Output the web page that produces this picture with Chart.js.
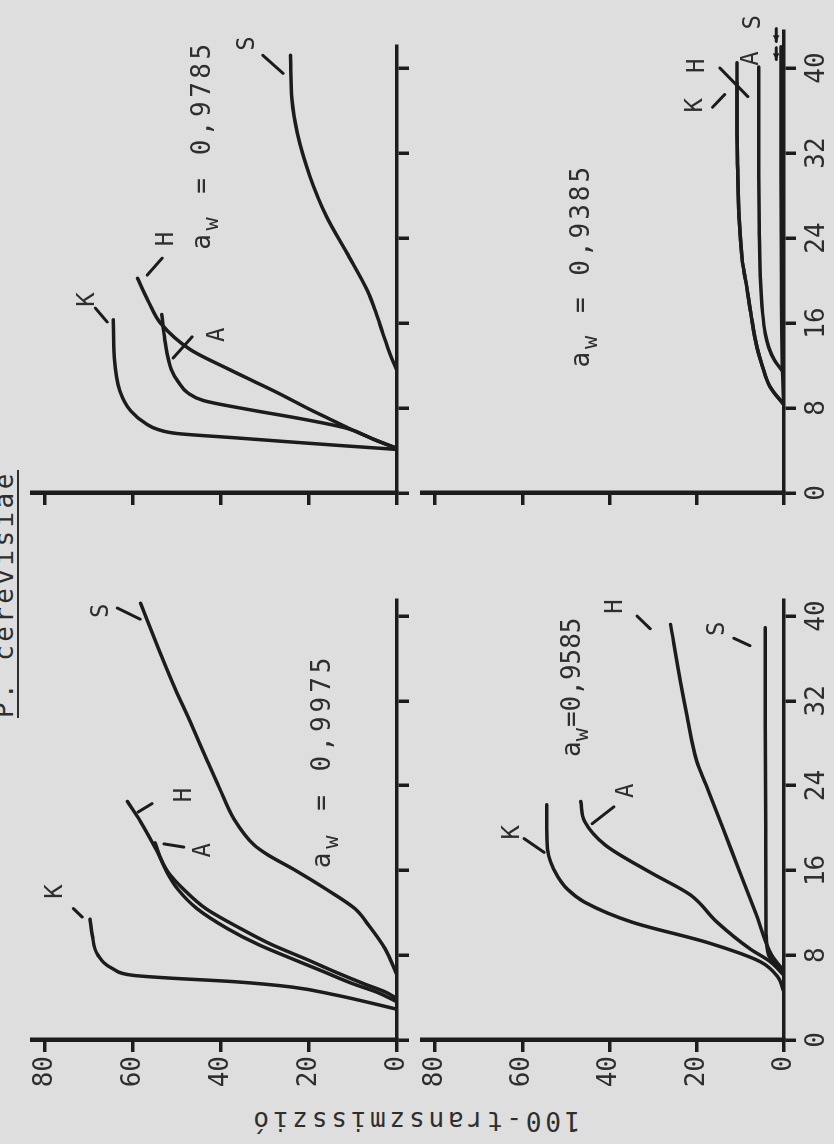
<!DOCTYPE html>
<html><head><meta charset="utf-8">
<script src="https://cdn.jsdelivr.net/npm/chart.js@4.4.1/dist/chart.umd.min.js"></script>
<style>
html,body{margin:0;padding:0;background:#dedede;overflow:hidden;width:834px;height:1144px}
#land{position:absolute;left:0;top:0;width:1144px;height:834px;transform-origin:0 0;transform:translate(0px,1144px) rotate(-90deg);font-family:"DejaVu Sans Mono",monospace;color:#2e2e2e}
canvas{position:absolute}
#title{position:absolute;left:426px;top:-9px;font-size:26px;line-height:26px;letter-spacing:3.4px;white-space:nowrap}
#uline{position:absolute;left:426px;top:17px;width:248px;height:2px;background:#2e2e2e}
#ytitle{position:absolute;left:-177px;top:402px;width:400px;height:26px;font-size:26px;line-height:26px;letter-spacing:3.8px;text-align:center;transform:rotate(-90deg);white-space:nowrap}
</style></head>
<body>
<div id="land">
  <div id="title">P. cerevisiae</div>
  <div id="uline"></div>
  <div id="ytitle">100-transzmisszió</div>
</div>
<script>
// ---- tick labels ----
const TIME_TICKS = [0, 8, 16, 24, 32, 40];
const VALUE_TICKS = [0, 20, 40, 60, 80];
const SERIES_NAMES = ['K', 'A', 'H', 'S'];
const AW_VALUES = ['0,9975', '0,9785', '0,9585', '0,9385'];

// ---- a_w = 0,9975 : [time, 100-transmission] ----
const K_9975 = [[2.9,0],[3.5,6],[4.25,14],[5,24],[5.5,37],[5.85,52],[6.1,60],[6.7,64.5],[8,68],[9.9,69.3],[11.4,69.8]];
const A_9975 = [[3.6,0],[4.5,4.5],[5.3,10],[6.5,17],[7.6,23.5],[9,31.5],[10.5,38.5],[12.4,45.5],[14.2,49.8],[15.8,52.3],[17.2,53.8],[18.6,55]];
const H_9975 = [[3.9,0],[4.5,2.5],[5.3,7.5],[6.5,14.5],[7.6,20.5],[9,28.5],[10.5,35.5],[12.4,43.5],[14.2,48.5],[15.8,52],[18,54.8],[20.6,58.3],[22.5,61.3]];
const S_9975 = [[6.1,0],[8.6,2.7],[10.8,6.4],[12.4,9.6],[14.2,16],[16.1,23.5],[17.5,29.5],[18.4,32.5],[20.8,37],[23.7,40.3],[26.2,43],[30,47],[33.2,50.5],[37,54.3],[41.2,58.3]];

// ---- a_w = 0,9785 ----
const K_9785 = [[4.1,0],[4.5,14],[4.8,24],[5.2,37],[5.6,50],[6.0,54.5],[6.5,57],[7.7,60.5],[9.6,63],[12.8,64.3],[16.3,64.5]];
const A_9785 = [[4.2,0],[5,5],[6.1,11.5],[7,22],[7.8,33],[8.7,44],[9.4,47.5],[10.5,49.8],[11.6,51.3],[14.4,52.8],[16.8,53.5]];
const H_9785 = [[4.2,0],[5,5],[6.1,11],[7,15.5],[7.8,19.5],[9.4,27],[10.5,32.5],[11.6,38],[13.5,47],[16,53.8],[18,56.5],[20.2,59]];
const S_9785 = [[11.5,0],[13,1.5],[15,3.2],[17,4.8],[19.1,6.8],[22.6,11.4],[26,16],[29.8,19.8],[33.9,22.7],[37,23.9],[41.2,24.2]];

// ---- a_w = 0,9585 ----
const K_9585 = [[4.5,0],[6,1.5],[7.4,5.5],[9.2,17.6],[11.1,34.7],[13,45.7],[14.2,49.6],[15.5,52],[16.8,53.5],[18,54.2],[20,54.4],[22.2,54.4]];
const A_9585 = [[6.1,0],[7.4,3.2],[8.6,7.8],[11.1,15.3],[13.7,21.5],[15.8,30.6],[18.4,41],[20.6,45.7],[22.5,46.6]];
const H_9585 = [[6.5,0],[8,2.8],[12,6.5],[16,10.3],[20,14],[24,17.8],[26.3,20],[30.7,22.3],[33.9,23.8],[39.2,26]];
const S_9585 = [[6.3,0],[8,3.5],[10,4.1],[20,4.2],[30,4.3],[38.9,4.3]];

// ---- a_w = 0,9385 ----
const K_9385 = [[8.3,0],[10,3.2],[12,5],[13.7,6.2],[16.9,7.6],[20,8.8],[22,9.6],[26,10.3],[30,10.6],[34,10.8],[38.6,10.8]];
const A_9385 = [[11.3,0],[12.5,2.2],[13.7,3.5],[15,4.3],[16.9,4.9],[20,5.4],[25,5.7],[30,5.8],[40.1,5.8]];
const H_9385 = [[8.3,0],[10,3.2],[12,5],[13.7,6.2],[16.9,7.6],[20,8.8],[22,9.6],[26,10.3],[30,10.6],[34,10.8],[40.5,10.8]];
const S_9385 = [[8,0],[12,0.4],[20,0.6],[30,0.7],[42,0.7]];

// ---- styling / layout ----
const INK = '#1c1c1c';
const TXT = '#2e2e2e';
const FONT = '"DejaVu Sans Mono", monospace';

const panels = [
  { box:[0,0,600,420], yW:104, xH:23, padTop:32, padRight:56.1, xMax:41.5, xLabels:false, yLabels:true,
    series:[K_9975, A_9975, H_9975, S_9975],
    aw:{t:16.2, v:15.2, eq:' = ', text:AW_VALUES[0], ls:4},
    labels:[['K',14,77.7],['A',17.9,44],['H',23.1,48.3],['S',40.5,67.2]],
    leaders:[[11.6,71.6,12.4,73.6],[18.5,53,18.2,48.5],[21.5,58.9,22.3,55.7],[39.7,58.4,40.75,63.6]], arrows:[] },
  { box:[600,0,544,420], yW:51, xH:23, padTop:32, padRight:46.75, xMax:42, xLabels:false, yLabels:false,
    series:[K_9785, A_9785, H_9785, S_9785],
    aw:{t:22.9, v:42.5, eq:' = ', text:AW_VALUES[1], ls:3.5},
    labels:[['K',18.2,70.3],['A',14.9,40.8],['H',23.9,52.4],['S',42.3,34]],
    leaders:[[16.1,65.9,17.4,68.6],[12.7,50.9,14.7,46.6],[20.5,56.8,22.1,53.4],[39.5,25.9,41.2,30.5]], arrows:[] },
  { box:[0,380,600,454], yW:104, xH:50, padTop:42, padRight:56.1, xMax:41.5, xLabels:true, yLabels:true,
    series:[K_9585, A_9585, H_9585, S_9585],
    aw:{t:26.7, v:46.8, eq:'=', text:AW_VALUES[2], ls:0},
    labels:[['K',19.6,62.2],['A',23.5,36],['H',40.9,38.6],['S',38.8,15.2]],
    leaders:[[17.7,55,19,59.6],[20.4,44,22,39],[38.8,30.7,40,33.7],[37.2,7.8,37.9,11.5]], arrows:[] },
  { box:[600,380,544,454], yW:51, xH:50, padTop:42, padRight:30.8, xMax:43.5, xLabels:true, yLabels:false,
    series:[K_9385, A_9385, H_9385, S_9385],
    aw:{t:11.8, v:44.7, eq:' = ', text:AW_VALUES[3], ls:3},
    labels:[['K',36.5,20.2],['H',40.2,19.7],['A',40.9,7.3],['S',44.3,6.9]],
    leaders:[[36.3,16.4,37.5,13.6],[37.3,8.3,40,14.7]],
    arrows:[[41.9,1.8,40.8,1.8],[43.7,1.8,42.5,1.8]] }
];

function makeAnnot(p) {
  return {
    id: 'annot',
    afterDatasetsDraw(chart) {
      const ctx = chart.ctx, xs = chart.scales.x, ys = chart.scales.y;
      const X = t => xs.getPixelForValue(t), Y = v => ys.getPixelForValue(v);
      ctx.save();
      ctx.strokeStyle = INK; ctx.fillStyle = TXT;
      ctx.lineCap = 'round'; ctx.lineWidth = 3;
      p.leaders.forEach(l => {
        ctx.beginPath(); ctx.moveTo(X(l[0]), Y(l[1])); ctx.lineTo(X(l[2]), Y(l[3])); ctx.stroke();
      });
      p.arrows.forEach(a => {
        const x1 = X(a[0]), y1 = Y(a[1]), x2 = X(a[2]), y2 = Y(a[3]);
        ctx.beginPath(); ctx.moveTo(x1, y1); ctx.lineTo(x2, y2); ctx.stroke();
        const ang = Math.atan2(y2 - y1, x2 - x1);
        ctx.beginPath();
        ctx.moveTo(x2, y2);
        ctx.lineTo(x2 - 7 * Math.cos(ang - 0.5), y2 - 7 * Math.sin(ang - 0.5));
        ctx.lineTo(x2 - 7 * Math.cos(ang + 0.5), y2 - 7 * Math.sin(ang + 0.5));
        ctx.closePath(); ctx.fillStyle = INK; ctx.fill();
      });
      ctx.fillStyle = TXT;
      ctx.font = '24px ' + FONT;
      ctx.textAlign = 'center'; ctx.textBaseline = 'middle';
      p.labels.forEach(l => ctx.fillText(l[0], X(l[1]), Y(l[2])));
      // a_w text with subscript
      const aw = p.aw;
      ctx.letterSpacing = aw.ls + 'px';
      ctx.textAlign = 'left'; ctx.textBaseline = 'alphabetic';
      const x0 = X(aw.t), y0 = Y(aw.v);
      ctx.font = '26px ' + FONT;
      ctx.fillText('a', x0, y0);
      const w1 = ctx.measureText('a').width;
      ctx.font = '22px ' + FONT;
      ctx.fillText('w', x0 + w1, y0 + 8);
      const w2 = ctx.measureText('w').width;
      ctx.font = '26px ' + FONT;
      ctx.fillText(aw.eq + aw.text, x0 + w1 + w2 + 1, y0);
      ctx.restore();
    }
  };
}

const land = document.getElementById('land');
const GRID = { drawOnChartArea:false, drawTicks:true, tickLength:12, tickWidth:3.5, tickColor:INK, color:INK, lineWidth:3.5 };

panels.forEach(p => {
  const cv = document.createElement('canvas');
  cv.width = p.box[2]; cv.height = p.box[3];
  cv.style.left = p.box[0] + 'px'; cv.style.top = p.box[1] + 'px';
  cv.style.width = p.box[2] + 'px'; cv.style.height = p.box[3] + 'px';
  land.appendChild(cv);
  new Chart(cv.getContext('2d'), {
    type: 'line',
    data: {
      datasets: p.series.map((s, j) => ({
        label: SERIES_NAMES[j],
        data: s.map(([x, y]) => ({x, y})),
        borderColor: INK, borderWidth: 3.5, pointRadius: 0, fill: false,
        cubicInterpolationMode: 'monotone', borderCapStyle: 'round', borderJoinStyle: 'round'
      }))
    },
    options: {
      responsive: false, animation: false, devicePixelRatio: 1,
      layout: { padding: { left: 0, bottom: 0, top: p.padTop, right: p.padRight } },
      plugins: { legend: { display: false }, tooltip: { enabled: false } },
      scales: {
        x: {
          type: 'linear', min: 0, max: p.xMax,
          afterFit: s => { s.height = p.xH; },
          afterBuildTicks: s => { s.ticks = TIME_TICKS.map(v => ({ value: v })); },
          grid: GRID, border: { display: true, color: INK, width: 3.5 },
          ticks: { display: p.xLabels, font: { family: FONT, size: 26 }, color: TXT, padding: 6, autoSkip: false, maxRotation: 0 }
        },
        y: {
          type: 'linear', min: 0, max: 83,
          afterFit: s => { s.width = p.yW; },
          afterBuildTicks: s => { s.ticks = VALUE_TICKS.map(v => ({ value: v })); },
          grid: GRID, border: { display: true, color: INK, width: 4.5 },
          ticks: { display: p.yLabels, font: { family: FONT, size: 26 }, color: TXT, padding: 4 }
        }
      }
    },
    plugins: [makeAnnot(p)]
  });
});
</script>
</body></html>
